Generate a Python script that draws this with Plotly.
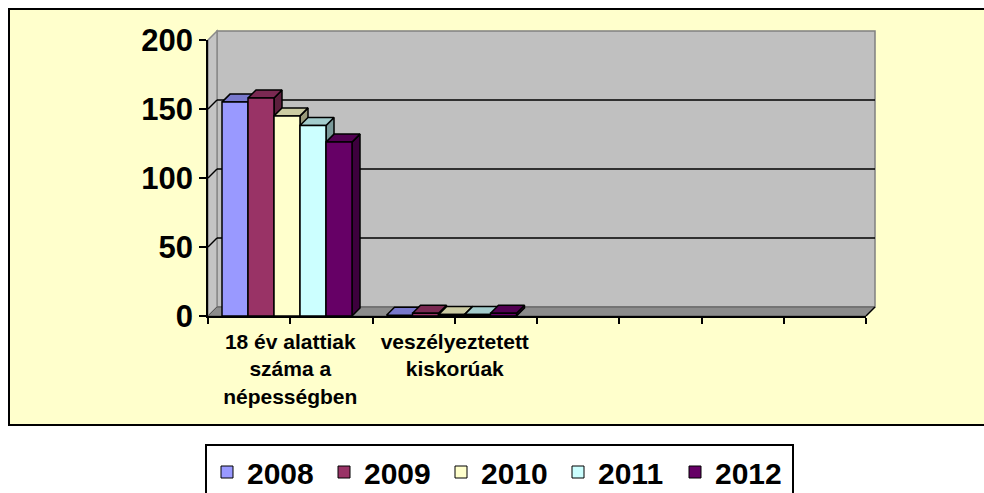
import plotly.graph_objects as go

# ---------------- data ----------------
categories = ["18 év alattiak<br>száma a<br>népességben", "veszélyeztetett<br>kiskorúak", "", ""]
series_names = ["2008", "2009", "2010", "2011", "2012"]
values_2008 = [155, 0.5, 0, 0]
values_2009 = [158, 2, 0, 0]
values_2010 = [145, 1, 0, 0]
values_2011 = [138, 1, 0, 0]
values_2012 = [126, 2, 0, 0]
y_ticks = [0, 50, 100, 150, 200]

series_values = [values_2008, values_2009, values_2010, values_2011, values_2012]
front_colors = ["#9999FF", "#993366", "#FFFFCC", "#CCFFFF", "#660066"]
top_colors = ["#7878CC", "#7A2952", "#CCCCA3", "#A3CCCC", "#520052"]
side_colors = ["#5C5C99", "#5C1F3D", "#99997A", "#7A9999", "#3D003D"]

FONT = "Liberation Sans, Arial, sans-serif"

# ---------------- geometry (pixels) ----------------
W, H = 984, 530          # taller than the window: legend box is cut at the bottom like the original
PL, PR, PT, PB = 208, 866, 40, 316          # plot area (front axes)
ncat = len(categories)
xmin, xmax = -0.5, ncat - 0.5
ymin, ymax = 0, 200
kx = (PR - PL) / (xmax - xmin)
ky = (PB - PT) / (ymax - ymin)
WALL_D = 9
BAR_D = 8

def px_to_paper_x(px):
    return (px - PL) / (PR - PL)

def px_to_paper_y(py):
    return (PB - py) / (PB - PT)

def data_to_px(x, v):
    return PL + (x - xmin) * kx, PB - (v - ymin) * ky

shapes = []
shapes.append(dict(type="rect", xref="paper", yref="paper", layer="below",
                   x0=px_to_paper_x(9), x1=px_to_paper_x(1000),
                   y0=px_to_paper_y(425), y1=px_to_paper_y(9),
                   fillcolor="#FFFFCC", line=dict(color="black", width=2)))

def poly_paper(points):
    pts = [(px_to_paper_x(px), px_to_paper_y(py)) for px, py in points]
    return "M " + " L ".join(f"{a:.5f},{b:.5f}" for a, b in pts) + " Z"

x_l, y_b = data_to_px(xmin, ymin)
x_r, y_t = data_to_px(xmax, ymax)
shapes.append(dict(type="path", xref="paper", yref="paper", layer="below",
                   path=poly_paper([(x_l + WALL_D, y_t - WALL_D), (x_r + WALL_D, y_t - WALL_D),
                                    (x_r + WALL_D, y_b - WALL_D), (x_l + WALL_D, y_b - WALL_D)]),
                   fillcolor="#C0C0C0", line=dict(color="#808080", width=1.5)))
shapes.append(dict(type="path", xref="paper", yref="paper", layer="below",
                   path=poly_paper([(x_l, y_t), (x_l + WALL_D, y_t - WALL_D),
                                    (x_l + WALL_D, y_b - WALL_D), (x_l, y_b)]),
                   fillcolor="#C4C4C4", line=dict(color="#8A8A8A", width=1.5)))
shapes.append(dict(type="path", xref="paper", yref="paper", layer="below",
                   path=poly_paper([(x_l, y_b), (x_r, y_b),
                                    (x_r + WALL_D, y_b - WALL_D), (x_l + WALL_D, y_b - WALL_D)]),
                   fillcolor="#8C8C8C", line=dict(color="#5A5A5A", width=1)))
for t in y_ticks[1:-1]:
    gx0, gy = data_to_px(xmin, t)
    gx1, _ = data_to_px(xmax, t)
    shapes.append(dict(type="line", xref="paper", yref="paper", layer="below",
                       x0=px_to_paper_x(gx0 + WALL_D), x1=px_to_paper_x(gx1 + WALL_D),
                       y0=px_to_paper_y(gy - WALL_D), y1=px_to_paper_y(gy - WALL_D),
                       line=dict(color="black", width=1.5)))
    shapes.append(dict(type="line", xref="paper", yref="paper", layer="below",
                       x0=px_to_paper_x(gx0), x1=px_to_paper_x(gx0 + WALL_D),
                       y0=px_to_paper_y(gy), y1=px_to_paper_y(gy - WALL_D),
                       line=dict(color="black", width=1.5)))
shapes.append(dict(type="line", xref="paper", yref="paper", layer="above",
                   x0=px_to_paper_x(x_r), x1=px_to_paper_x(x_r + WALL_D),
                   y0=px_to_paper_y(y_b), y1=px_to_paper_y(y_b - WALL_D),
                   line=dict(color="black", width=1.5)))

fig = go.Figure()

bar_w = 26 / kx
group_off = 14 / kx
dxb = BAR_D / kx
dyb = BAR_D / ky
for c in range(ncat):
    start = c - 0.5 + group_off
    for i, vals in enumerate(series_values):
        v = vals[c]
        if v <= 0:
            continue
        x0 = start + i * bar_w
        x1 = x0 + bar_w
        fig.add_trace(go.Scatter(x=[x1, x1 + dxb, x1 + dxb, x1, x1], y=[0, dyb, v + dyb, v, 0],
                                 mode="lines", fill="toself", fillcolor=side_colors[i],
                                 line=dict(color="black", width=1.5), showlegend=False, hoverinfo="skip"))
        fig.add_trace(go.Scatter(x=[x0, x1, x1 + dxb, x0 + dxb, x0], y=[v, v, v + dyb, v + dyb, v],
                                 mode="lines", fill="toself", fillcolor=top_colors[i],
                                 line=dict(color="black", width=1.5), showlegend=False, hoverinfo="skip"))
        fig.add_trace(go.Scatter(x=[x0, x1, x1, x0, x0], y=[0, 0, v, v, 0],
                                 mode="lines", fill="toself", fillcolor=front_colors[i],
                                 line=dict(color="black", width=1.5), showlegend=False, hoverinfo="skip"))

for i, name in enumerate(series_names):
    fig.add_trace(go.Bar(x=[None], y=[None], name=name,
                         marker=dict(color=front_colors[i], line=dict(color="black", width=1))))

tick_pos = [xmin + 0.5 * k for k in range(2 * ncat + 1)]
tick_txt = []
for p in tick_pos:
    if abs(p - round(p)) < 1e-9 and 0 <= round(p) < ncat:
        tick_txt.append(categories[int(round(p))])
    else:
        tick_txt.append("")

fig.update_layout(
    width=W, height=H,
    margin=dict(l=PL, r=W - PR, t=PT, b=H - PB, pad=0),
    paper_bgcolor="white", plot_bgcolor="rgba(0,0,0,0)",
    shapes=shapes,
    showlegend=True,
    legend=dict(orientation="h", x=px_to_paper_x(205), y=px_to_paper_y(444),
                xanchor="left", yanchor="top", bgcolor="white",
                bordercolor="black", borderwidth=2, entrywidth=72,
                font=dict(family=FONT, size=30, color="black", weight="bold"),
                traceorder="normal"),
    xaxis=dict(range=[xmin, xmax], tickmode="array", tickvals=tick_pos, ticktext=tick_txt,
               showgrid=False, zeroline=False, showline=True, linecolor="black", linewidth=1.5,
               ticks="outside", ticklen=6, tickwidth=1.5, tickcolor="black",
               tickfont=dict(family=FONT, size=21, color="black", weight="bold"), fixedrange=True),
    yaxis=dict(range=[ymin, ymax], tickmode="array", tickvals=y_ticks,
               showgrid=False, zeroline=False, showline=True, linecolor="black", linewidth=1.5,
               ticks="outside", ticklen=7, tickwidth=1.5, tickcolor="black",
               tickfont=dict(family=FONT, size=31, color="black", weight="bold"), fixedrange=True),
)

fig.write_html("out.html", config={"displayModeBar": False},
               post_script="document.body.style.margin='0';document.body.style.overflow='hidden';")
